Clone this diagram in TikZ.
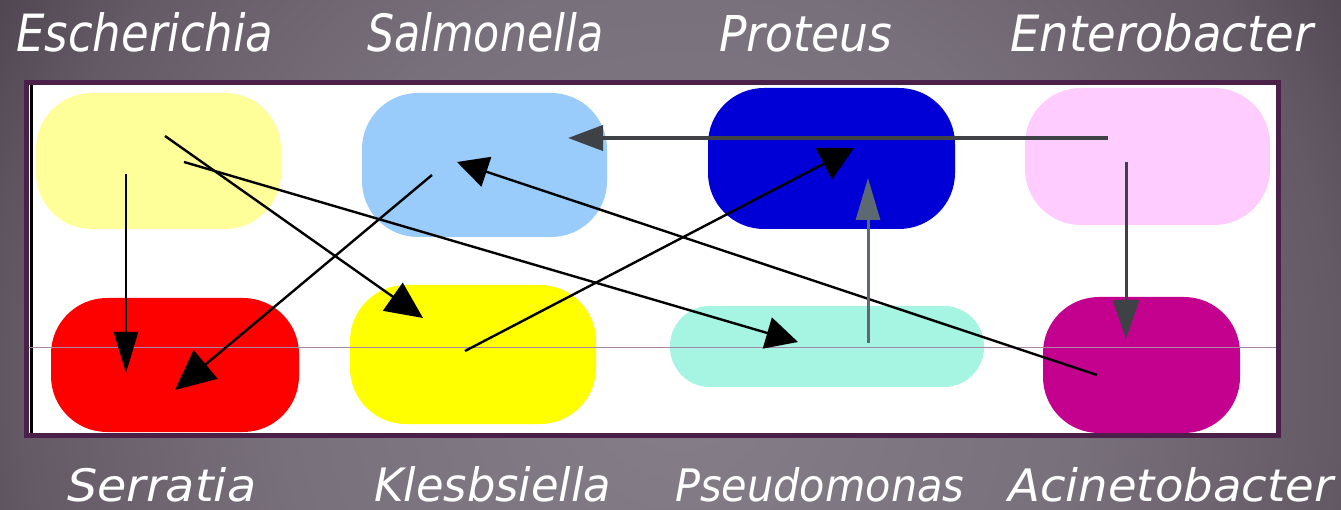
\documentclass[tikz,border=0pt]{standalone}
\usepackage{fontspec}
\usepackage{graphicx}
\usetikzlibrary{arrows.meta}
\newfontfamily\lblfont{DejaVu Sans}
\definecolor{bgA}{RGB}{134,126,136}
\definecolor{bgB}{RGB}{120,112,122}
\definecolor{bgC}{RGB}{100,90,102}
\definecolor{bgD}{RGB}{76,67,78}
\definecolor{framecol}{HTML}{4A2049}
\definecolor{paleyellow}{HTML}{FFFF99}
\definecolor{lightblue}{HTML}{99CCFA}
\definecolor{deepblue}{HTML}{0000D6}
\definecolor{pink}{HTML}{FFCCFF}
\definecolor{brightred}{HTML}{FD0000}
\definecolor{brightyellow}{HTML}{FFFF00}
\definecolor{aqua}{HTML}{A6F5E2}
\definecolor{magentacol}{HTML}{C4008F}
\definecolor{thinline}{HTML}{A888A8}
\definecolor{darkgrey}{RGB}{62,66,70}
\definecolor{slategrey}{RGB}{92,104,114}
\pgfdeclareradialshading{bgshade}{\pgfpoint{0bp}{0bp}}{color(0bp)=(bgA); color(12.5bp)=(bgB); color(20.6bp)=(bgC); color(25bp)=(bgD); color(50bp)=(bgD)}
\newcommand{\lbl}[3]{\resizebox{#1pt}{#2pt}{\lblfont\itshape #3}}
\begin{document}
\begin{tikzpicture}[x=1pt,y=-1pt,
  blob/.style={rectangle, inner sep=0pt, draw=none, rounded corners=56pt},
  label/.style={anchor=base west, inner sep=0pt, text=white},
  arr/.style={line width=2.4pt, draw=black},
]
\useasboundingbox (0,0) rectangle (1341,510);
\begin{scope}
  \clip (0,0) rectangle (1341,510);
  \shade[shading=bgshade] (680,380) circle (800);
\end{scope}
% frame
\fill[framecol] (24,80) rectangle (1281,438);
\fill[white] (29,85) rectangle (1276,433);
\draw[black, line width=3pt] (31.5,85) -- (31.5,433);
% shapes
\node[blob, fill=paleyellow, minimum width=245pt, minimum height=136pt] (esch) at (158.5,161) {};
\node[blob, fill=lightblue, minimum width=245pt, minimum height=144pt] (salm) at (484.5,165) {};
\node[blob, fill=deepblue, minimum width=247pt, minimum height=141pt] (prot) at (831.5,158.5) {};
\node[blob, fill=pink, minimum width=245pt, minimum height=137pt] (ent) at (1147.5,156.5) {};
\node[blob, fill=brightred, minimum width=248pt, minimum height=134pt] (serr) at (175,365) {};
\node[blob, fill=brightyellow, minimum width=246pt, minimum height=139pt] (kleb) at (473,354.5) {};
\node[blob, fill=aqua, minimum width=314pt, minimum height=81pt, rounded corners=40pt] (pseu) at (827,346.5) {};
\node[blob, fill=magentacol, minimum width=197pt, minimum height=136pt] (acin) at (1141.5,365) {};
% thin horizontal line
\coordinate (hl1) at (29,348);
\coordinate (hl2) at (1276,348);
\draw[thinline, line width=1pt] (hl1) -- (hl2);
% connector end points
\coordinate (eschA) at (126,174);
\coordinate (serrA) at (126,373);
\coordinate (eschB) at (165,136);
\coordinate (klebA) at (423,318);
\coordinate (eschC) at (184,162);
\coordinate (pseuA) at (798,342);
\coordinate (salmA) at (432,175);
\coordinate (serrB) at (175,390);
\coordinate (klebB) at (465,351);
\coordinate (protA) at (854,148);
\coordinate (acinA) at (1097,375);
\coordinate (salmB) at (457,162);
\coordinate (entA) at (1108,138);
\coordinate (salmC) at (568,138);
\coordinate (pseuB) at (868,343);
\coordinate (protB) at (868,178);
\coordinate (entB) at (1126,162);
\coordinate (acinB) at (1126,339);
% connectors
\draw[arr, -{Triangle[length=41pt,width=24pt]}] (eschA) -- (serrA);
\draw[arr, -{Triangle[length=37pt,width=34pt]}] (eschB) -- (klebA);
\draw[arr, -{Triangle[length=32pt,width=32pt]}] (eschC) -- (pseuA);
\draw[arr, -{Triangle[length=40pt,width=37pt]}] (salmA) -- (serrB);
\draw[arr, -{Triangle[length=34pt,width=35pt]}] (klebB) -- (protA);
\draw[arr, -{Triangle[length=31pt,width=31pt]}] (acinA) -- (salmB);
\draw[arr, draw=darkgrey, line width=4pt, -{Triangle[length=35pt,width=25pt]}, fill=black] (entA) -- (salmC);
\draw[arr, draw=slategrey, line width=3pt, -{Triangle[length=42pt,width=24pt]}, fill=black] (pseuB) -- (protB);
\draw[arr, draw=darkgrey, line width=3pt, -{Triangle[length=39pt,width=26pt]}, fill=black] (entB) -- (acinB);
% labels
\node[label] (lEsch) at (16,52) {\lbl{257}{39}{Escherichia}};
\node[label] (lSalm) at (367,52) {\lbl{236}{39}{Salmonella}};
\node[label] (lProt) at (719,52) {\lbl{173}{36}{Proteus}};
\node[label] (lEnt) at (1010,52) {\lbl{303}{38}{Enterobacter}};
\node[label] (lSerr) at (67,501) {\lbl{189}{34}{Serratia}};
\node[label] (lKleb) at (374,501) {\lbl{237}{35}{Klesbsiella}};
\node[label] (lPseu) at (675,501) {\lbl{289}{34}{Pseudomonas}};
\node[label] (lAcin) at (1008,501) {\lbl{325}{34}{Acinetobacter}};
\end{tikzpicture}
\end{document}
